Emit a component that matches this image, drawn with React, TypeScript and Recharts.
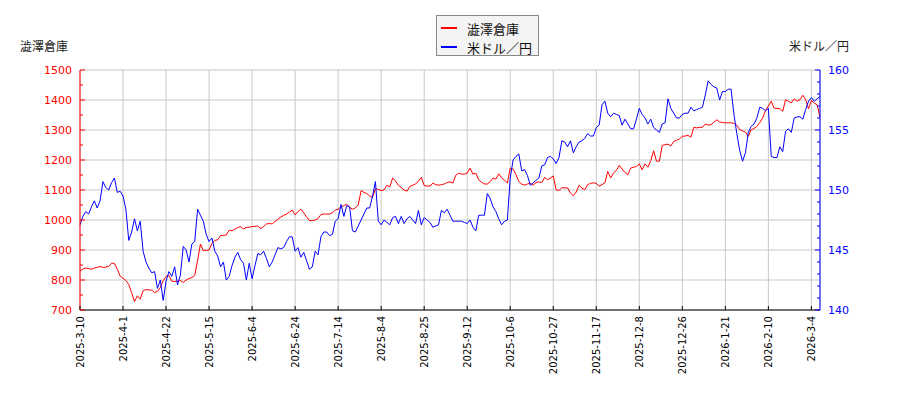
import { LineChart, Line, XAxis, YAxis, CartesianGrid, Legend } from "recharts";

// 澁澤倉庫 の終値 (円) と 米ドル／円, 1点 = 1営業日
const stockPrice = [
  830, 836, 840, 838, 836, 840, 842, 845, 842, 843,
  845, 856, 855, 836, 813, 806, 798, 785, 758, 728,
  747, 736, 765, 768, 767, 766, 758, 762, 775, 798,
  812, 815, 796, 795, 796, 798, 792, 800, 805, 808,
  815, 865, 920, 898, 899, 900, 922, 932, 934, 948,
  949, 950, 966, 964, 970, 975, 978, 970, 975, 976,
  978, 979, 980, 972, 978, 987, 988, 987, 995, 1002,
  1010, 1015, 1020, 1026, 1033, 1017, 1028, 1036, 1024, 1010,
  998, 998, 1000, 1005, 1018, 1020, 1020, 1020, 1024, 1033,
  1036, 1044, 1048, 1053, 1042, 1036, 1040, 1050, 1098, 1092,
  1088, 1080, 1076, 1104, 1102, 1098, 1100, 1116, 1110, 1140,
  1130, 1116, 1108, 1100, 1096, 1112, 1116, 1120, 1130, 1142,
  1115, 1113, 1113, 1123, 1118, 1116, 1118, 1120, 1125, 1127,
  1123, 1149, 1156, 1153, 1153, 1156, 1173, 1153, 1156, 1134,
  1126, 1120, 1120, 1128, 1140, 1136, 1154, 1140, 1133, 1123,
  1173, 1170, 1151, 1128, 1120, 1116, 1120, 1123, 1116, 1125,
  1127, 1125, 1142, 1134, 1140, 1147, 1101, 1098, 1108, 1107,
  1107, 1090, 1081, 1093, 1116, 1106, 1101, 1118, 1122, 1124,
  1122, 1113, 1118, 1124, 1162, 1140, 1157, 1165, 1182, 1170,
  1158, 1151, 1173, 1176, 1178, 1187, 1167, 1187, 1176, 1198,
  1231, 1196, 1196, 1249, 1251, 1253, 1247, 1262, 1266, 1270,
  1279, 1280, 1282, 1276, 1309, 1307, 1309, 1309, 1320, 1316,
  1318, 1326, 1334, 1327, 1325, 1324, 1324, 1324, 1322, 1316,
  1301, 1297, 1293, 1279, 1301, 1305, 1312, 1325, 1340, 1365,
  1380, 1396, 1373, 1372, 1371, 1362, 1401, 1396, 1390, 1404,
  1396, 1401, 1416, 1401, 1371, 1398, 1390, 1384, 1343,
];

const usdJpy = [
  147.1, 147.8, 148.2, 148.0, 148.6, 149.1, 148.5, 149.1, 150.7, 150.2,
  150.0, 150.6, 151.0, 149.8, 149.9, 149.5, 148.4, 145.8, 146.5, 147.6,
  146.6, 147.4, 144.9, 144.0, 143.5, 143.1, 143.2, 141.8, 142.5, 140.8,
  142.4, 143.2, 142.8, 143.6, 142.1, 142.9, 145.3, 145.0, 144.0, 145.5,
  145.7, 148.4, 147.9, 147.4, 146.3, 145.7, 146.0, 144.9, 144.5, 143.6,
  144.0, 142.5, 142.8, 143.7, 144.4, 144.8, 144.2, 143.9, 142.5, 143.9,
  142.6, 143.7, 144.7, 144.6, 144.9, 144.3, 143.6, 144.0, 144.6, 145.2,
  145.1, 145.2, 145.7, 146.1, 146.1, 144.9, 145.2, 144.4, 144.8, 144.1,
  143.4, 143.6, 144.9, 144.6, 146.1, 146.5, 146.5, 146.2, 146.3, 147.4,
  147.6, 148.8, 147.8, 148.7, 148.6, 146.6, 146.5, 147.0, 147.5, 148.0,
  148.5, 148.5, 149.5, 150.7, 147.4, 147.1, 147.5, 147.3, 147.1, 147.7,
  147.8, 147.2, 147.8, 147.2, 147.6, 147.8, 147.5, 147.2, 148.3, 147.1,
  147.7, 147.5, 147.3, 146.9, 147.0, 147.1, 148.3, 148.1, 148.4, 147.9,
  147.4, 147.4, 147.4, 147.4, 147.3, 147.2, 147.5, 146.9, 146.6, 147.9,
  147.9, 147.9, 149.7, 149.3, 148.6, 148.2, 147.6, 147.1, 147.4, 147.5,
  151.0, 152.5, 152.8, 153.0, 151.6, 151.7, 151.2, 150.4, 150.6, 150.8,
  151.0, 152.0, 152.1, 152.7, 152.8, 152.6, 152.2, 152.7, 154.1, 154.0,
  153.6, 154.1, 153.1, 153.6, 154.0, 154.1, 154.3, 154.7, 154.5, 154.5,
  155.2, 155.4, 157.1, 157.4, 156.4, 156.1, 156.4, 156.3, 156.2, 155.4,
  155.9, 155.5, 155.1, 155.1, 155.9, 156.8, 156.3, 156.0, 155.5, 155.9,
  155.2, 155.0, 154.8, 155.5, 155.6, 157.6, 156.8, 156.4, 156.0, 156.0,
  156.3, 156.4, 156.4, 156.9, 156.6, 156.7, 156.8, 156.9, 157.9, 159.1,
  158.8, 158.6, 158.5, 157.5, 158.2, 158.2, 158.4, 158.4, 156.3, 154.7,
  153.3, 152.4, 153.1, 154.8, 155.3, 155.5, 156.0, 156.9, 156.8, 156.6,
  156.8, 152.8, 152.7, 152.7, 153.6, 153.2, 154.9, 155.1, 154.8, 156.0,
  156.1, 156.1, 155.9, 156.7, 157.4, 157.7, 157.4, 157.6, 157.8,
];

// 15営業日ごとの目盛ラベル
const dateLabels = [
  "2025-3-10", "2025-4-1", "2025-4-22", "2025-5-15", "2025-6-4", "2025-6-24",
  "2025-7-14", "2025-8-4", "2025-8-25", "2025-9-12", "2025-10-6", "2025-10-27",
  "2025-11-17", "2025-12-8", "2025-12-26", "2026-1-21", "2026-2-10", "2026-3-4",
];
const TICK_EVERY = 15;

const stockTicks = [700, 750, 800, 850, 900, 950, 1000, 1050, 1100, 1150, 1200, 1250, 1300, 1350, 1400, 1450, 1500];
const stockGrid = [700, 800, 900, 1000, 1100, 1200, 1300, 1400, 1500];
const usdTicks = [140, 141, 142, 143, 144, 145, 146, 147, 148, 149, 150, 151, 152, 153, 154, 155, 156, 157, 158, 159, 160];

const seriesNames = ["澁澤倉庫", "米ドル／円"];
const RED = "#ff0000";
const BLUE = "#0000ff";
const FONT = "'DejaVu Sans', sans-serif";
const CJK = "'Noto Sans CJK JP', sans-serif";

const data = stockPrice.map((v, i) => ({ idx: i, stock: v, usd: usdJpy[i] }));
const xTicks = dateLabels.map((_, k) => k * TICK_EVERY);

function LeftTick(props: any) {
  const { x, y, payload } = props;
  const major = payload.value % 100 === 0;
  return (
    <g>
      <line x1={x} x2={x + (major ? 5 : 3)} y1={y} y2={y} stroke={RED} />
      {major && (
        <text x={x - 8} y={y} dy="0.36em" textAnchor="end" fill={RED} fontSize={11} fontFamily={FONT}>
          {payload.value}
        </text>
      )}
    </g>
  );
}

function RightTick(props: any) {
  const { x, y, payload } = props;
  const major = payload.value % 5 === 0;
  return (
    <g>
      <line x1={x} x2={x - (major ? 5 : 3)} y1={y} y2={y} stroke={BLUE} />
      {major && (
        <text x={x + 8} y={y} dy="0.36em" textAnchor="start" fill={BLUE} fontSize={11} fontFamily={FONT}>
          {payload.value}
        </text>
      )}
    </g>
  );
}

function DateTick(props: any) {
  const { x, y, payload } = props;
  const label = dateLabels[Math.round(payload.value / TICK_EVERY)];
  return (
    <g>
      <line x1={x} x2={x} y1={y} y2={y - 4} stroke="#000" />
      <text
        x={x}
        y={y + 6}
        dy="0.35em"
        textAnchor="end"
        transform={`rotate(-90, ${x}, ${y + 6})`}
        fill="#000"
        fontSize={10}
        fontFamily={FONT}
      >
        {label}
      </text>
    </g>
  );
}

const renderLegend = () => (
  <div
    style={{
      position: "relative",
      width: 101,
      height: 39,
      border: "1px solid #888",
      background: "#f4f4f4",
      fontFamily: CJK,
      fontSize: 13,
      color: "#111",
    }}
  >
    {seriesNames.map((name, k) => (
      <div key={name} style={{ position: "absolute", left: 4, top: 3 + k * 19, height: 18, display: "flex", alignItems: "center" }}>
        <span style={{ display: "inline-block", width: 16, height: 2, background: k === 0 ? RED : BLUE }} />
        <span style={{ marginLeft: 10, whiteSpace: "nowrap" }}>{name}</span>
      </div>
    ))}
  </div>
);

export default function App() {
  return (
    <div style={{ position: "absolute", left: 0, top: 0, width: 900, height: 400, background: "#fff" }}>
      <LineChart width={900} height={400} data={data} margin={{ top: 70, right: 20, bottom: 10, left: 20 }}>
        <CartesianGrid stroke="#c8c8c8" yAxisId="left" horizontalValues={stockGrid} />
        <XAxis
          dataKey="idx"
          type="number"
          domain={[0, data.length - 1]}
          ticks={xTicks}
          interval={0}
          height={80}
          stroke="#000"
          tickSize={0}
          tickMargin={0}
          tickLine={false}
          tick={<DateTick />}
        />
        <YAxis
          yAxisId="left"
          orientation="left"
          domain={[700, 1500]}
          ticks={stockTicks}
          interval={0}
          width={60}
          stroke={RED}
          tickSize={0}
          tickMargin={0}
          tickLine={false}
          tick={<LeftTick />}
        />
        <YAxis
          yAxisId="right"
          orientation="right"
          domain={[140, 160]}
          ticks={usdTicks}
          interval={0}
          width={60}
          stroke={BLUE}
          tickSize={0}
          tickMargin={0}
          tickLine={false}
          tick={<RightTick />}
        />
        <Legend
          layout="horizontal"
          verticalAlign="middle"
          align="center"
          content={renderLegend}
          wrapperStyle={{ left: 436, top: 15, width: 103, height: 41 }}
        />
        <Line yAxisId="left" dataKey="stock" name={seriesNames[0]} stroke={RED} strokeWidth={1} dot={false} type="linear" isAnimationActive={false} />
        <Line yAxisId="right" dataKey="usd" name={seriesNames[1]} stroke={BLUE} strokeWidth={1} dot={false} type="linear" isAnimationActive={false} />
        <text x={20} y={45} dominantBaseline="central" fontSize={12} fontFamily={CJK} fill="#222">
          {seriesNames[0]}
        </text>
        <text x={849} y={45} dominantBaseline="central" textAnchor="end" fontSize={12} fontFamily={CJK} fill="#222">
          {seriesNames[1]}
        </text>
      </LineChart>
    </div>
  );
}
